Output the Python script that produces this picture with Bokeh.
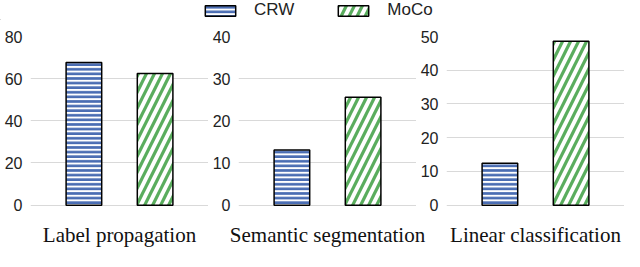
import numpy as np
from bokeh.plotting import figure
from bokeh.models import (ColumnDataSource, FactorRange, Range1d, FixedTicker,
                          Legend, LegendItem)
from bokeh.layouts import column, row
from bokeh.transform import dodge
from bokeh.core.properties import value
from bokeh.embed import file_html
from bokeh.resources import INLINE

# ---- data ----
tasks = ["Label propagation", "Semantic segmentation", "Linear classification"]
crw = [67.7, 13.1, 12.4]
moco = [62.4, 25.6, 48.6]
y_max = [80, 40, 50]
y_ticks = [[0, 20, 40, 60, 80], [0, 10, 20, 30, 40], [0, 10, 20, 30, 40, 50]]
series = ["CRW", "MoCo"]

BLUE = "#4a6db3"
GREEN = "#5aad5e"
GRID = "#d9d9d9"

CRW_STYLE = dict(fill_color="white", hatch_pattern="-", hatch_color=BLUE,
                 hatch_scale=4.6, hatch_weight=2.7, line_color="black",
                 line_width=1.5)
MOCO_STYLE = dict(fill_color="white", hatch_pattern="/", hatch_color=GREEN,
                  hatch_scale=16, hatch_weight=3.2, line_color="black",
                  line_width=1.5)

PW = 208        # panel width
PL = 30         # panel left border

panels = []
for i, task in enumerate(tasks):
    src = ColumnDataSource(dict(task=[task], crw=[crw[i]], moco=[moco[i]]))
    p = figure(x_range=FactorRange(task),
               y_range=Range1d(-y_max[i] * 0.008, y_max[i]),
               width=PW, height=195, output_backend="svg",
               toolbar_location=None, min_border_left=PL, min_border_right=0,
               min_border_top=16, min_border_bottom=9)
    p.vbar(x=dodge("task", -0.2, range=p.x_range), top="crw", width=0.2,
           source=src, **CRW_STYLE)
    p.vbar(x=dodge("task", 0.2, range=p.x_range), top="moco", width=0.2,
           source=src, **MOCO_STYLE)
    p.outline_line_color = None
    p.xgrid.grid_line_color = None
    p.ygrid.grid_line_color = GRID
    p.ygrid.grid_line_width = 1.2
    p.xaxis.visible = False
    p.yaxis.ticker = FixedTicker(ticks=y_ticks[i])
    p.yaxis.axis_line_color = None
    p.yaxis.major_tick_line_color = None
    p.yaxis.minor_tick_line_color = None
    p.yaxis.major_tick_out = 0
    p.yaxis.major_label_standoff = 8
    p.yaxis.major_label_text_font = "Liberation Sans"
    p.yaxis.major_label_text_font_size = "16px"
    p.yaxis.major_label_text_color = "#222222"
    panels.append(p)

# ---- category label strip (aligned with the panel frames) ----
n = len(tasks)
centre_px = PL + (PW - PL) / 2
shift = (centre_px - PW / 2) / PW
strip = figure(width=PW * n, height=36, output_backend="svg",
               toolbar_location=None, min_border=0,
               x_range=Range1d(-shift, n - shift), y_range=Range1d(0, 1))
strip.text(x=np.arange(n) + 0.5, y=[0.45] * n, text=tasks,
           text_align="center", text_baseline="middle",
           text_font=value("Liberation Serif"), text_font_size="21px",
           text_color="#111111")
strip.axis.visible = False
strip.grid.visible = False
strip.outline_line_color = None

# ---- legend strip ----
lg = figure(width=PW * n, height=20, output_backend="svg",
            toolbar_location=None, x_range=Range1d(0, 1),
            y_range=Range1d(0, 1), min_border=0)
# renderers placed outside the visible range: only used for legend glyphs
dummy = ColumnDataSource(dict(x=[-5], top=[-5]))
r1 = lg.vbar(x="x", top="top", width=0.1, source=dummy, **CRW_STYLE)
r2 = lg.vbar(x="x", top="top", width=0.1, source=dummy, **MOCO_STYLE)
legend = Legend(items=[LegendItem(label=series[0], renderers=[r1]),
                       LegendItem(label=series[1], renderers=[r2])],
                orientation="horizontal", location=(201, 0),
                glyph_width=38, glyph_height=13, label_standoff=15,
                spacing=40, padding=0, margin=0,
                border_line_color=None, background_fill_alpha=0,
                label_text_font="Liberation Sans", label_text_font_size="17px",
                label_text_color="#222222")
lg.add_layout(legend, "center")
lg.axis.visible = False
lg.grid.visible = False
lg.outline_line_color = None

layout = column(lg, row(*panels, spacing=0), strip, spacing=0)
open("out.html", "w").write(file_html(layout, INLINE))
